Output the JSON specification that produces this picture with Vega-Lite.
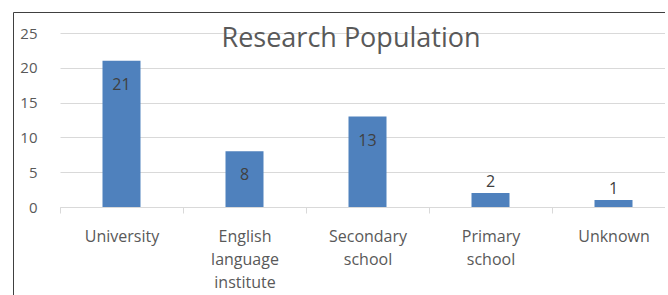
{
  "$schema": "https://vega.github.io/schema/vega-lite/v6.json",
  "autosize": "none",
  "padding": {"left": 13, "top": 12, "right": 0, "bottom": 0},
  "width": 652,
  "height": 290,
  "background": "white",
  "config": {
    "font": "Open Sans",
    "view": {"stroke": "#404040", "strokeWidth": 1}
  },
  "title": {
    "text": "Research Population",
    "font": "Open Sans",
    "fontSize": 27,
    "fontWeight": "normal",
    "color": "#595959",
    "anchor": "middle",
    "frame": "group",
    "baseline": "alphabetic",
    "offset": 0,
    "dx": 12,
    "dy": 62
  },
  "data": {
    "values": [
      {"category": "University", "value": 21},
      {"category": "English language institute", "value": 8},
      {"category": "Secondary school", "value": 13},
      {"category": "Primary school", "value": 2},
      {"category": "Unknown", "value": 1}
    ]
  },
  "encoding": {
    "x": {
      "field": "category",
      "type": "nominal",
      "sort": null,
      "scale": {"range": [47, 662], "paddingInner": 0, "paddingOuter": 0},
      "axis": {
        "title": null,
        "orient": "bottom",
        "offset": -95,
        "tickBand": "extent",
        "tickSize": 6,
        "tickColor": "#d9d9d9",
        "domainColor": "#d9d9d9",
        "labelAngle": 0,
        "labelColor": "#595959",
        "labelFont": "Open Sans",
        "labelFontSize": 16,
        "labelPadding": 15,
        "labelLineHeight": 23,
        "labelExpr": "datum.value ? split(datum.value, ' ') : ''",
        "grid": false
      }
    },
    "y": {
      "field": "value",
      "type": "quantitative",
      "scale": {"domain": [0, 25], "range": [195, 21], "nice": false},
      "axis": {
        "title": null,
        "values": [0, 5, 10, 15, 20, 25],
        "domain": false,
        "ticks": false,
        "tickSize": 0,
        "offset": -24,
        "labelPadding": 0,
        "labelColor": "#595959",
        "labelFont": "Open Sans",
        "labelFontSize": 15,
        "grid": true,
        "gridColor": "#d9d9d9",
        "gridWidth": 1
      }
    }
  },
  "layer": [
    {
      "mark": {"type": "bar", "size": 38, "color": "#4f81bd"}
    },
    {
      "transform": [{"filter": "datum.value >= 5"}],
      "mark": {"type": "text", "baseline": "middle", "dy": 24, "fontSize": 16, "color": "#404040", "font": "Open Sans"},
      "encoding": {"text": {"field": "value", "type": "quantitative"}}
    },
    {
      "transform": [{"filter": "datum.value < 5"}],
      "mark": {"type": "text", "baseline": "middle", "dy": -11, "fontSize": 16, "color": "#404040", "font": "Open Sans"},
      "encoding": {"text": {"field": "value", "type": "quantitative"}}
    }
  ]
}
